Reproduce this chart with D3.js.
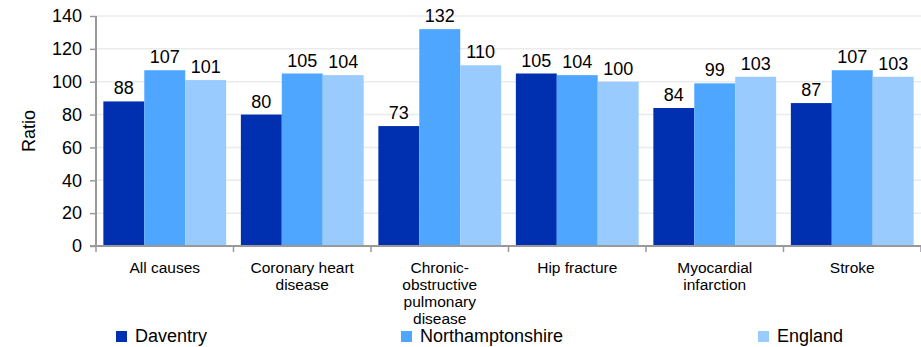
<!DOCTYPE html>
<html><head><meta charset="utf-8">
<script src="https://cdn.jsdelivr.net/npm/d3@7"></script>
<style>
html,body{margin:0;padding:0;background:#fff;}
svg{display:block;font-family:"Liberation Sans",Arial,sans-serif;}
</style></head>
<body><svg id="c" width="921" height="347"></svg>
<script>
const categories = ["All causes","Coronary heart\ndisease","Chronic-\nobstructive\npulmonary\ndisease","Hip fracture","Myocardial\ninfarction","Stroke"];
const seriesNames = ["Daventry","Northamptonshire","England"];
const daventry = [88,80,73,105,84,87];
const northamptonshire = [107,105,132,104,99,107];
const england = [101,104,110,100,103,103];
const yTicks = [0,20,40,60,80,100,120,140];
const colors = ["#0030b0","#4fa6ff","#99cbff"];

(function(){
const seriesValues = [daventry, northamptonshire, england];
const svg = d3.select("#c");
const pLeft = 96, pRight = 921, pTop = 16, pBottom = 246;

const x = d3.scaleBand().domain(categories).range([pLeft, pRight]).paddingInner(0.107).paddingOuter(0.0535);
const xs = d3.scaleBand().domain(seriesNames).range([0, x.bandwidth()]);
const y = d3.scaleLinear().domain([0,140]).range([pBottom, pTop]);

// gridlines
svg.append("g").selectAll("line").data(yTicks.slice(1)).join("line")
  .attr("x1", pLeft).attr("x2", pRight)
  .attr("y1", d=>y(d)).attr("y2", d=>y(d))
  .attr("stroke", "#ebebeb").attr("stroke-width", 1.5);

// bars
const groups = svg.append("g").selectAll("g").data(categories).join("g")
  .attr("transform", c => `translate(${x(c)},0)`);
groups.each(function(c, ci){
  const g = d3.select(this);
  seriesNames.forEach((s, si) => {
    const v = seriesValues[si][ci];
    g.append("rect").attr("x", xs(s)).attr("width", xs.bandwidth())
      .attr("y", y(v)).attr("height", y(0)-y(v)).attr("fill", colors[si]);
    g.append("text").attr("x", xs(s)+xs.bandwidth()/2).attr("y", y(v)-7)
      .attr("text-anchor","middle").attr("font-size", 18).attr("fill","#000").text(v);
  });
});

// y axis
const yAxis = svg.append("g").attr("transform", `translate(${pLeft},0)`)
  .call(d3.axisLeft(y).tickValues(yTicks).tickSize(6).tickPadding(8));
yAxis.select(".domain").attr("stroke","#999").attr("stroke-width",2).attr("d", `M0,${pTop}V${pBottom}`);
yAxis.selectAll(".tick line").attr("stroke","#999").attr("stroke-width",1.5);
yAxis.selectAll(".tick text").attr("font-size",18).attr("fill","#000").attr("font-family","Liberation Sans, Arial, sans-serif");

// x axis
const boundaries = d3.range(categories.length+1).map(i => pLeft + i*(pRight-pLeft)/categories.length);
const xg = svg.append("g");
xg.append("line").attr("x1", pLeft-6).attr("x2", pRight).attr("y1", pBottom).attr("y2", pBottom)
  .attr("stroke","#999").attr("stroke-width",2);
xg.selectAll("line.t").data(boundaries).join("line").attr("class","t")
  .attr("x1", d=>d).attr("x2", d=>d).attr("y1", pBottom).attr("y2", pBottom+6)
  .attr("stroke","#999").attr("stroke-width",1.5);

// category labels
svg.append("g").selectAll("text").data(categories).join("text")
  .attr("text-anchor","middle").attr("font-size",15.5).attr("fill","#000")
  .each(function(c){
    const t = d3.select(this);
    c.split("\n").forEach((line, i) => {
      t.append("tspan").attr("x", x(c)+x.bandwidth()/2).attr("y", 273 + i*17).text(line);
    });
  });

// y label
svg.append("text").attr("transform","translate(35,131) rotate(-90)")
  .attr("text-anchor","middle").attr("font-size",18).attr("fill","#000").text("Ratio");

// legend
const legendX = [116, 401, 758];
const lg = svg.append("g").selectAll("g").data(seriesNames).join("g")
  .attr("transform", (d,i) => `translate(${legendX[i]},331)`);
lg.append("rect").attr("width",11).attr("height",11).attr("fill",(d,i)=>colors[i]);
lg.append("text").attr("x",19).attr("y",11).attr("font-size",18).attr("fill","#000").text(d=>d);
})();
</script></body></html>
